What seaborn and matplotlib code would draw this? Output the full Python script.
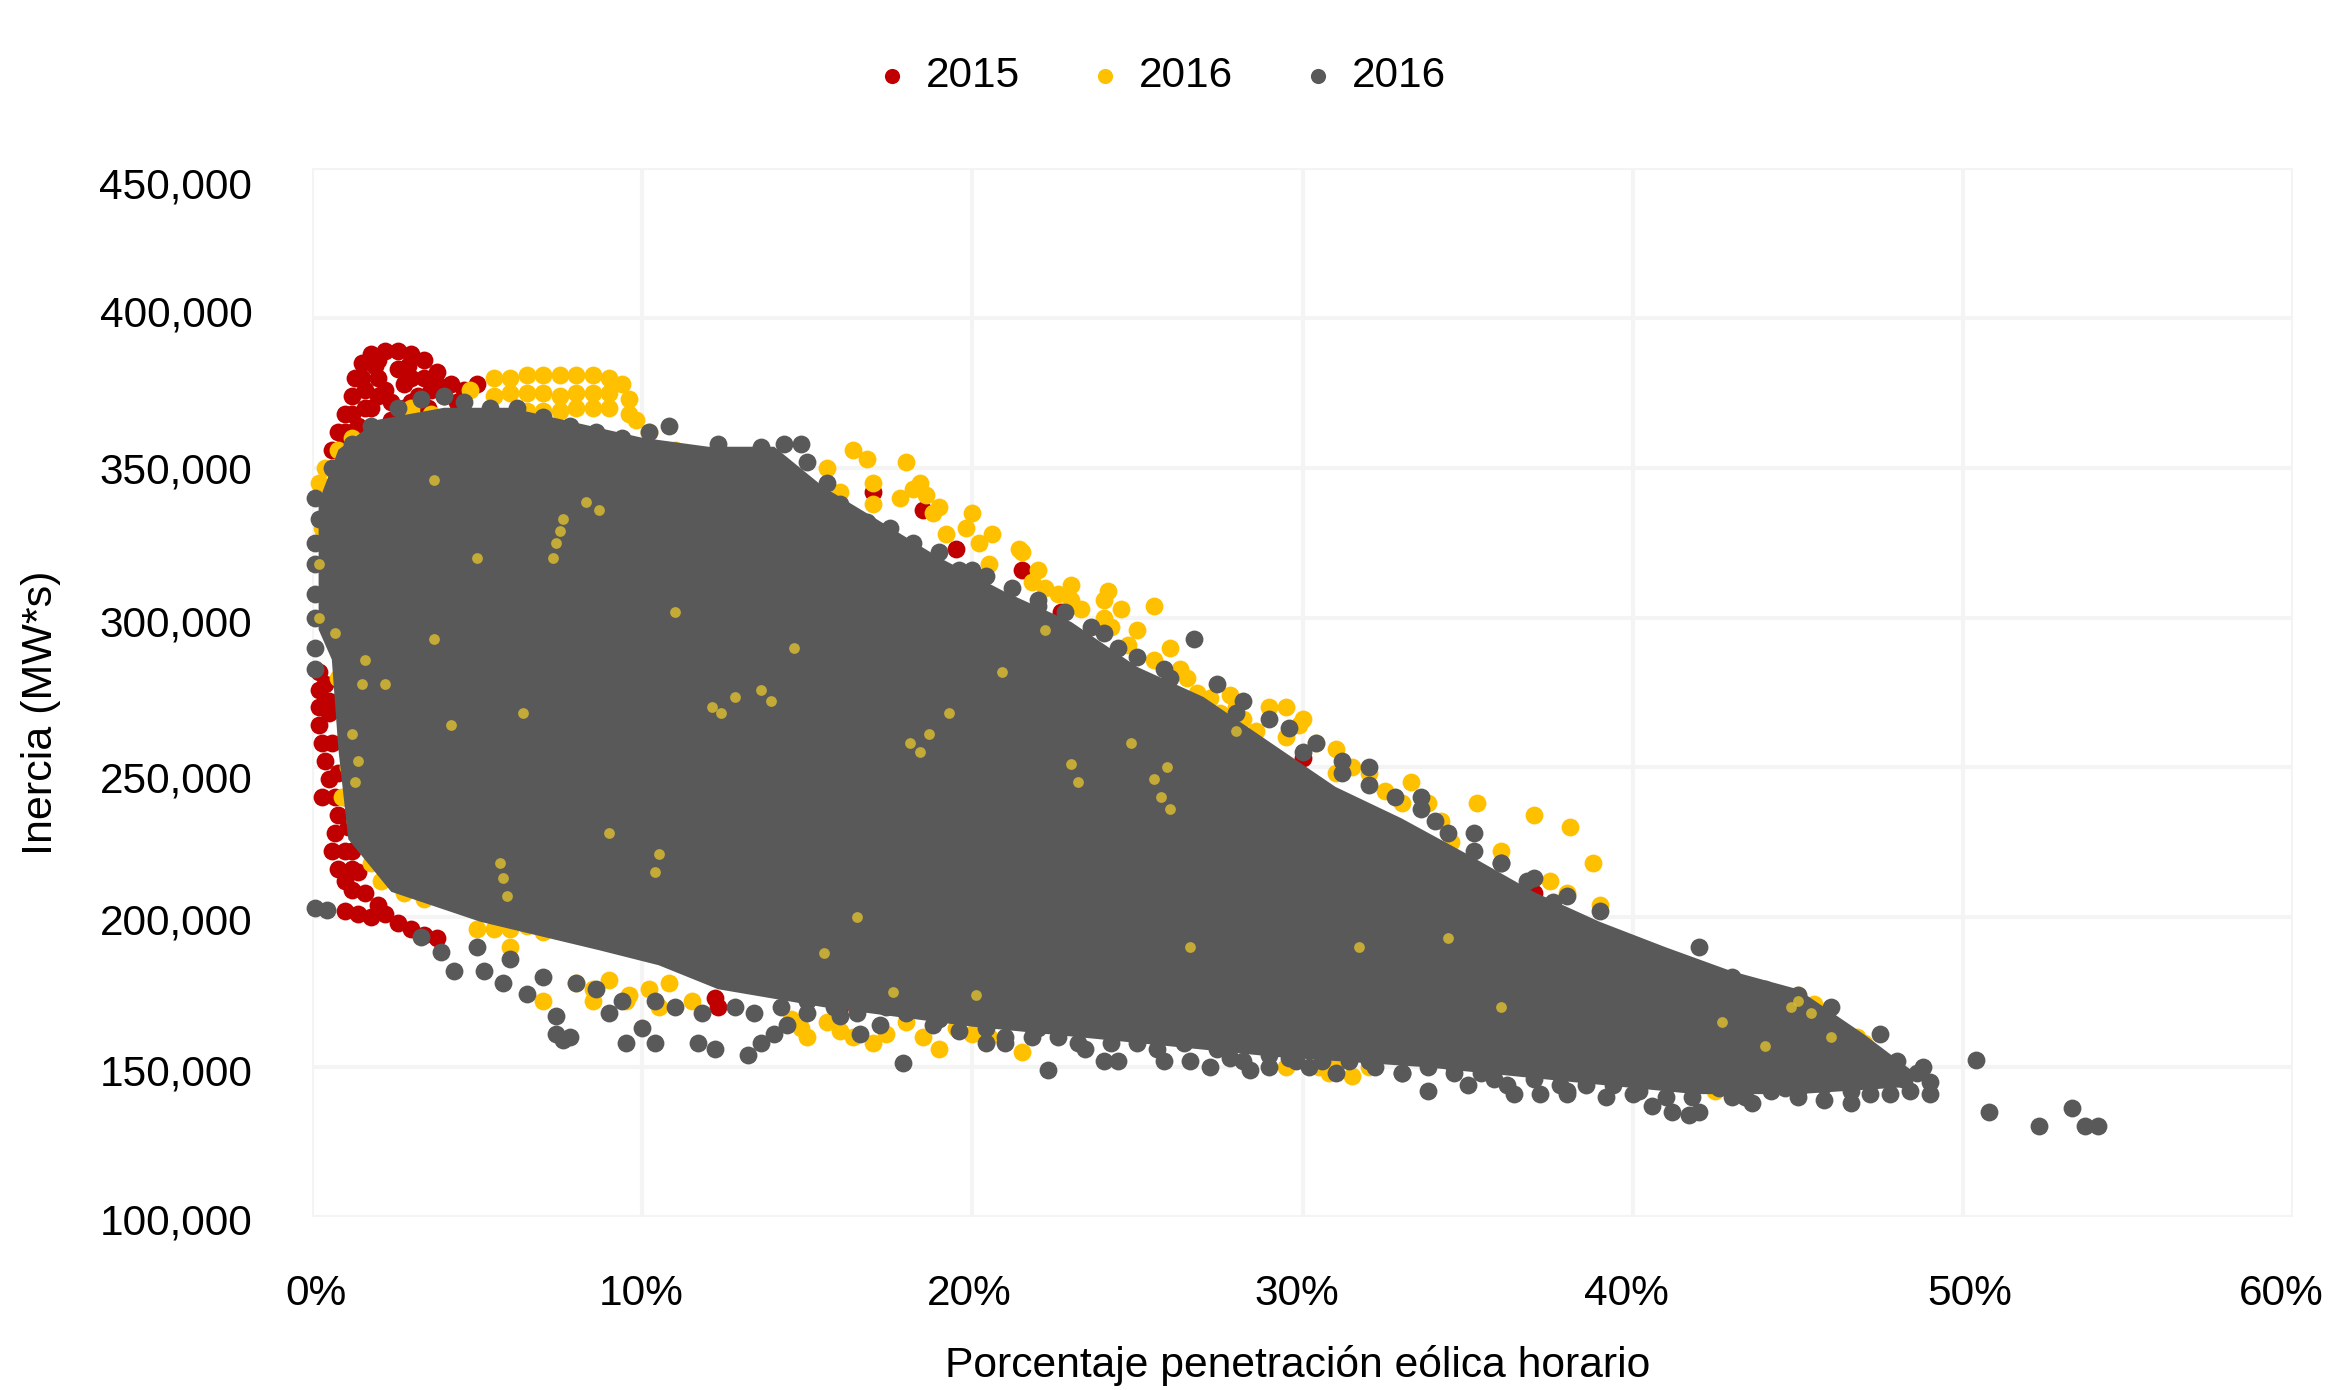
import numpy as np
import matplotlib
matplotlib.use("Agg")
from matplotlib import pyplot as plt
from matplotlib.transforms import ScaledTranslation
import seaborn as sns

# x in percent, y in thousands of MW*s
red_x = [0.6, 0.8, 1.0, 1.2, 1.3, 1.5, 1.8, 2.2, 2.6, 3.0, 3.4, 3.8, 4.2, 4.6, 5.0, 1.0, 1.4, 1.8, 2.2, 2.6, 3.0, 1.6, 2.0, 2.4, 3.2, 3.6, 4.0, 1.2, 1.6, 2.0, 2.8, 1.9,
         1.2, 1.6, 1.5, 2.0, 2.0, 2.9, 3.4, 3.8, 4.4, 2.4, 3.0, 3.5, 1.0, 2.8,
         0.2, 0.2, 0.2, 0.2, 0.3, 0.4, 0.5, 0.7, 0.8, 0.7, 0.6, 0.8, 1.0, 1.2,
         0.4, 0.5, 0.6, 0.8, 1.0, 1.1, 1.0, 1.2, 0.5, 0.3,
         1.0, 1.4, 1.8, 2.2, 2.6, 3.0, 3.4, 3.8, 1.2, 1.4, 1.6, 2.0,
         37.0, 12.2, 12.3, 16.4, 16.0, 17.0, 18.5, 19.5, 21.5, 22.7, 30.0]
red_y = [356, 362, 368, 374, 380, 385, 388, 389, 389, 388, 386, 382, 378, 376, 378, 358, 364, 370, 376, 383, 380, 376, 380, 372, 374, 376, 374, 362, 358, 362, 370, 384,
         368, 370, 380, 374, 386, 384, 380, 378, 372, 366, 372, 370, 362, 378,
         282, 276, 270, 264, 258, 252, 246, 240, 234, 228, 222, 216, 212, 222,
         278, 268, 258, 248, 240, 230, 222, 216, 272, 240,
         202, 201, 200, 201, 198, 196, 194, 193, 209, 215, 208, 204,
         208, 173, 170, 172, 170, 342, 336, 323, 316, 302, 253]

yellow_x = [4.8, 5.5, 6.0, 6.5, 7.0, 7.5, 8.0, 8.5, 9.0, 9.4, 5.5, 6.0, 6.5, 7.0, 7.5, 8.0, 8.5, 9.0, 9.6, 6.5, 7.0, 7.5, 8.0, 8.5, 9.0, 9.6,
            9.8, 10.2, 11.0, 11.3, 14.8, 15.3, 16.4, 16.8, 15.6, 16.0, 17.0, 17.8, 18.0, 18.2, 18.8, 18.4, 19.0, 20.0, 19.8, 20.2, 20.6, 21.4, 21.5, 21.8, 22.2, 22.6, 23.0, 23.3, 24.1, 24.0, 24.2, 24.5, 24.7, 25.5, 25.5, 26.0, 26.3, 26.8, 27.2, 27.8, 28.0, 28.2, 28.6, 29.0, 29.5, 29.9, 30.0, 30.4, 31.0, 31.5, 32.0, 33.3, 33.8, 34.2, 35.3, 37.0, 38.1, 38.8, 37.5, 38.0, 39.0,
            17.0, 18.6, 19.2, 20.5, 22.0, 23.0, 24.0, 25.0, 26.5, 27.5, 28.5, 29.5, 31.0, 32.5, 33.0, 34.5, 36.0,
            5.5, 6.0, 6.5, 7.0, 7.5, 8.0, 8.5, 9.0, 9.6, 10.2, 10.8, 14.8, 15.6, 16.4, 17.4, 18.0, 19.5, 20.0, 30.5, 31.0, 32.0, 41.0, 42.0, 44.5, 45.0, 45.5, 47.0, 46.8,
            8.5, 9.5, 10.5, 11.5, 14.5, 15.0, 16.0, 17.0, 18.5, 19.0, 20.5, 21.5, 29.5, 30.8, 31.5, 42.5, 43.0, 7.0, 6.0, 5.0,
            0.8, 1.2, 1.4, 1.2, 1.1, 0.9, 1.3, 1.5, 1.8, 2.1, 2.8, 3.4, 0.2, 0.4, 0.8, 1.2, 3.0, 3.6, 4.2, 0.3, 0.5]
yellow_y = [376, 380, 380, 381, 381, 381, 381, 381, 380, 378, 374, 375, 375, 375, 374, 375, 375, 375, 373, 369, 369, 369, 370, 370, 370, 368,
            366, 362, 356, 352, 345, 340, 356, 353, 350, 342, 338, 340, 352, 343, 335, 345, 337, 335, 330, 325, 328, 323, 322, 312, 310, 308, 306, 303, 309, 300, 297, 303, 291, 304, 286, 290, 283, 275, 273, 274, 270, 266, 262, 270, 270, 264, 266, 258, 256, 250, 248, 245, 238, 232, 238, 234, 230, 218, 212, 208, 204,
            345, 341, 328, 318, 316, 311, 306, 296, 280, 268, 258, 260, 248, 242, 238, 225, 222,
            196, 196, 197, 195, 196, 178, 176, 179, 174, 176, 178, 163, 165, 160, 161, 165, 163, 161, 150, 152, 150, 148, 145, 172, 174, 171, 158, 160,
            172, 172, 170, 172, 166, 160, 162, 158, 160, 156, 160, 155, 150, 148, 147, 142, 143, 172, 190, 196,
            280, 275, 265, 258, 250, 240, 232, 226, 218, 212, 208, 206, 345, 350, 356, 360, 370, 368, 366, 330, 338]

# solid part of the dark cloud, where single points can no longer be told apart
core_x = [0.2, 0.8, 2, 4, 6, 8, 10, 12, 14, 15.5, 17, 19, 21, 23, 25, 27, 29, 31, 33, 35, 37, 39, 41, 43, 45, 47, 48.5,
          48.5, 45, 41.9, 38.2, 33.7, 29.1, 24.6, 20, 15.5, 12.3, 10.5, 8.7, 5.1, 2.4, 1.1, 0.8, 0.6, 0.2]
core_y = [338.5, 356, 366, 370, 370, 365, 360, 357, 357, 343.5, 333.5, 320, 308.5, 298.5, 283.5, 273.5, 258.5, 243.5, 233, 221, 208.5, 198.5, 190, 182, 176, 161, 148.5,
          143.5, 141, 141, 145, 150, 153.5, 158.5, 163.5, 170, 176, 184, 189, 198.5, 208.5, 226, 256, 286, 296]

gray_x = [0.1, 0.1, 0.1, 0.1, 0.1, 0.1, 0.1, 0.2, 0.6, 1.2, 1.8, 2.6, 3.3, 4.0, 4.6, 5.4, 6.2, 7.0, 7.8, 8.6, 9.4, 10.2, 10.8, 11.5, 12.3, 13.0, 13.6, 14.3, 14.8, 15.0, 15.6, 16.0, 16.8, 17.5, 18.2, 19.0, 19.6, 20.4, 21.2, 22.0, 22.8, 23.6, 24.4, 25.0, 25.8, 26.7, 27.4, 28.2, 29.0, 29.6, 30.4, 31.2, 32.0, 32.8, 33.6, 34.4, 35.2, 36.0, 36.8, 37.6, 38.3, 39.0, 39.6, 40.4, 41.2, 42.0, 43.0, 44.0, 45.0, 46.0, 47.5, 48.0, 48.6, 49.0,
          20.0, 22.0, 24.0, 26.0, 28.0, 30.0, 32.0, 34.0, 36.0, 38.0, 33.6, 35.2, 31.2, 37.0,
          0.1, 0.45, 3.3, 3.9, 4.3, 5.2, 5.8, 6.5, 7.4, 7.6, 7.4, 7.8, 9.0, 9.5, 10.0, 10.4, 11.7, 12.2, 13.2, 13.6, 14.0, 14.4, 15.0, 16.0, 16.6, 17.2, 17.9, 19.0, 19.6, 20.4, 21.0, 22.0, 22.3, 23.2, 24.0, 24.4, 25.0, 25.6, 26.4, 27.2, 27.8, 28.4, 29.0, 29.6, 30.2, 31.0, 32.0, 33.0, 33.8, 34.6, 35.0, 35.8, 36.4, 37.2, 38.0, 38.6, 39.2, 40.0, 40.6, 41.2, 41.7, 42.0, 43.0, 43.6, 44.2, 45.0, 45.8, 46.6, 47.2, 47.8, 48.4, 49.0, 50.4, 50.8, 52.3, 53.3, 53.7, 54.1,
          5.0, 6.0, 7.0, 8.0, 8.6, 9.4, 10.4, 11.0, 11.8, 12.8, 13.4, 14.2, 15.0, 15.8, 16.5, 17.4, 18.0, 18.8, 19.6, 20.4, 21.0, 21.8, 22.6, 23.4, 24.2, 25.0, 25.8, 26.6, 27.4, 28.2, 29.0, 29.8, 30.6, 31.4, 32.2, 33.0, 33.8, 34.6, 35.4, 36.2, 37.0, 37.8, 38.6, 39.4, 40.2, 41.0, 41.8, 42.6, 43.4, 44.2, 45.0, 45.8, 46.6, 47.4, 48.2, 48.8, 44.6, 38.0]
gray_y = [340, 325, 318, 308, 300, 290, 283, 333, 350, 358, 364, 370, 373, 374, 372, 370, 370, 367, 364, 362, 360, 362, 364, 354, 358, 354, 357, 358, 358, 352, 345, 338, 332, 330, 325, 322, 316, 314, 310, 306, 302, 297, 290, 287, 283, 293, 278, 272, 266, 263, 258, 248, 250, 240, 236, 228, 222, 218, 212, 205, 198, 202, 192, 188, 185, 190, 180, 176, 174, 170, 161, 152, 148, 145,
          316, 304, 295, 280, 268, 255, 244, 232, 218, 207, 240, 228, 252, 213,
          203, 202.5, 193.5, 188.5, 182, 182, 178, 174.5, 167, 159, 161, 160, 168, 158, 163, 158, 158, 156, 154, 158, 161, 164, 168, 167, 161, 164, 151.5, 166, 168, 163, 160, 163, 149, 158, 152, 152, 160, 156, 158, 150, 153, 149, 150, 153, 150, 148, 152, 148, 142, 150, 144, 146, 141, 141, 142, 144, 140, 141, 137, 135, 134, 135, 140, 138, 142, 142, 139, 138, 141, 141, 142, 141, 152.5, 135, 130.5, 136.5, 130.5, 130.5,
          190, 186, 180, 178, 176, 172, 172, 170, 168, 170, 168, 170, 172, 170, 168, 170, 168, 164, 162, 158, 158, 160, 160, 156, 158, 158, 152, 152, 156, 152, 154, 152, 152, 152, 150, 148, 150, 148, 148, 144, 146, 144, 146, 144, 142, 140, 140, 143, 140, 145, 140, 144, 142, 146, 146, 150, 143, 141]

# yellow glints left showing through the dark cloud
speck_x = [7.6, 7.5, 7.4, 7.3, 3.7, 3.7, 8.3, 8.7, 12.8, 12.4, 12.1, 13.6, 13.9, 14.6, 18.7, 18.4, 18.1, 19.3, 10.5, 10.4, 5.8, 5.9, 5.7, 1.2, 1.3, 1.4, 25.5, 25.7, 25.9, 26.0, 23.0, 23.2, 22.2, 28.0, 24.8, 20.9, 16.5, 11.0, 6.4, 4.2, 2.2, 5.0, 9.0, 15.5, 17.6, 20.1, 26.6, 31.7, 34.4, 36.0, 44.8, 45.4, 45.0, 42.7, 44.0, 46.0, 0.2, 0.2, 0.7, 1.6, 1.5]
speck_y = [333, 329, 325, 320, 293, 346, 338.5, 336, 273.5, 268, 270, 276, 272, 290, 261, 255, 258, 268, 221, 215, 213, 207, 218, 261, 245, 252, 246, 240, 250, 236, 251, 245, 296, 262, 258, 282, 200, 302, 268, 264, 278, 320, 228, 188, 175, 174, 190, 190, 193, 170, 170, 168, 172, 165, 157, 160, 318, 300, 295, 286, 278]

x_ticks = [0, 10, 20, 30, 40, 50, 60]
x_labels = ["0%", "10%", "20%", "30%", "40%", "50%", "60%"]
y_ticks = [100000, 150000, 200000, 250000, 300000, 350000, 400000, 450000]
y_labels = ["100,000", "150,000", "200,000", "250,000", "300,000", "350,000", "400,000", "450,000"]
series_names = ["2015", "2016", "2016"]

RED = "#C00000"
YELLOW = "#FFC000"
GRAY = "#595959"

sns.set_theme(style="white")
plt.rcParams["font.family"] = ["Liberation Sans", "DejaVu Sans"]

fig = plt.figure(figsize=(23.5, 13.9), dpi=100)
ax = fig.add_axes([312 / 2350, 1 - 1217 / 1390, 1981 / 2350, 1049 / 1390])


def draw(xs, ys, color, order, label=None, size=165, alpha=1.0):
    sns.scatterplot(x=np.array(xs), y=np.array(ys) * 1000, color=color, s=size, alpha=alpha,
                    linewidth=0, clip_on=False, zorder=order, label=label, ax=ax)


draw(red_x, red_y, RED, 3, label=series_names[0])
draw(yellow_x, yellow_y, YELLOW, 4, label=series_names[1])
ax.fill(core_x, np.array(core_y) * 1000, color=GRAY, linewidth=0, zorder=5)
draw(gray_x, gray_y, GRAY, 6, label=series_names[2])
draw(speck_x, speck_y, "#E0C030", 7, size=60, alpha=0.8)

ax.set_xlim(0, 60)
ax.set_ylim(100000, 450000)
ax.set_xticks(x_ticks, x_labels, fontsize=30.5)
ax.set_yticks(y_ticks, y_labels, fontsize=30.5)
ax.grid(True, color="#F4F4F4", linewidth=3, zorder=0)
ax.set_axisbelow(True)
sns.despine(ax=ax, left=True, bottom=True)
ax.tick_params(axis="both", length=0, labelcolor="black")
ax.tick_params(axis="x", pad=41)
ax.tick_params(axis="y", pad=43)

# the labels of the original sit a little off their gridlines (pixels)
x_shift = [4.5, -1, -3, -6, -6, 7, -12]
y_shift = [-1.5, -3, -1.5, -10, -3, 0, 7, -15]
for lab, d in zip(ax.get_xticklabels(), x_shift):
    lab.set_transform(lab.get_transform() + ScaledTranslation(d / 100, 0, fig.dpi_scale_trans))
for lab, d in zip(ax.get_yticklabels(), y_shift):
    lab.set_transform(lab.get_transform() + ScaledTranslation(0, d / 100, fig.dpi_scale_trans))

ax.set_xlabel("Porcentaje penetración eólica horario", fontsize=30.7, color="black", va="center")
ax.xaxis.set_label_coords(0.4977, -0.142)
ax.set_ylabel("Inercia (MW*s)", fontsize=31, color="black", va="center")
ax.yaxis.set_label_coords(-0.137, 0.481)

handles, labels = ax.get_legend_handles_labels()
ax.legend().remove()
fig.legend(handles, labels, loc="center", bbox_to_anchor=(0.4885, 0.9455), ncol=3, frameon=False,
           fontsize=30.5, handletextpad=-0.2, columnspacing=1.0, labelcolor="black", markerscale=0.85)

fig.savefig("out.png", dpi=100)
